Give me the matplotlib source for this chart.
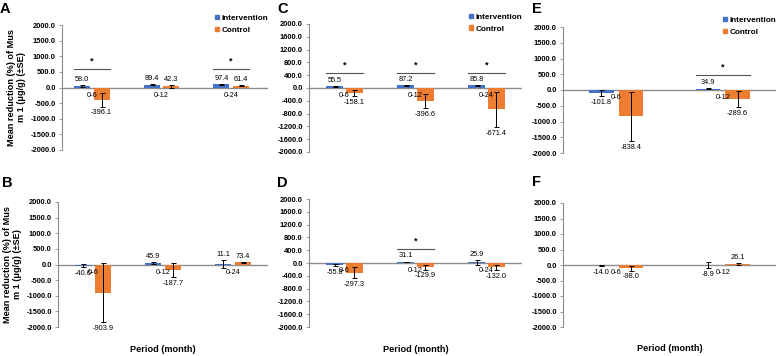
import matplotlib
matplotlib.use('Agg')
import matplotlib.pyplot as plt
from matplotlib.patches import Patch
import numpy as np

plt.rcParams['font.family'] = ['Liberation Sans', 'DejaVu Sans']

# ---- data ----
periods_3 = ['0-6', '0-12', '0-24']
periods_2 = ['0-6', '0-12']

a_interv = [58.0, 89.4, 97.4]
a_interv_se = [35, 20, 12]
a_control = [-396.1, 42.3, 61.4]
a_control_se = [215, 45, 20]
a_sig = [True, False, True]

b_interv = [-40.6, 45.9, 11.1]
b_interv_se = [50, 30, 120]
b_control = [-903.9, -187.7, 73.4]
b_control_se = [940, 220, 15]
b_sig = [False, False, False]

c_interv = [55.5, 87.2, 85.8]
c_interv_se = [20, 15, 15]
c_control = [-158.1, -396.6, -671.4]
c_control_se = [90, 220, 540]
c_sig = [True, True, True]

d_interv = [-55.8, 31.1, 25.9]
d_interv_se = [40, 15, 80]
d_control = [-297.3, -129.9, -132.0]
d_control_se = [170, 78, 80]
d_sig = [False, True, False]

e_interv = [-101.8, 34.9]
e_interv_se = [90, 15]
e_control = [-838.4, -289.6]
e_control_se = [780, 260]
e_sig = [False, True]

f_interv = [-14.0, -8.9]
f_interv_se = [10, 95]
f_control = [-98.0, 26.1]
f_control_se = [80, 30]
f_sig = [False, False]

BLUE = '#4472C4'
ORANGE = '#ED7D31'
GREY = '#8C8C8C'
W, H = 776, 356


def px_axes(fig, left, right, top, bottom):
    return fig.add_axes([left / W, 1 - bottom / H, (right - left) / W, (bottom - top) / H])


def draw_panel(ax, periods, interv, interv_se, control, control_se, sig,
               step, xlim, sig_frac, legend=False, ylabel=False, xlabel=False):
    x = np.arange(len(periods))
    bw = 0.23
    off = 0.14
    ax.bar(x - off, interv, bw, color=BLUE, zorder=2)
    ax.bar(x + off, control, bw, color=ORANGE, zorder=2)
    ax.errorbar(x - off, interv, yerr=interv_se, fmt='none', ecolor='black',
                elinewidth=0.7, capsize=1.8, capthick=0.7, zorder=3)
    ax.errorbar(x + off, control, yerr=control_se, fmt='none', ecolor='black',
                elinewidth=0.7, capsize=1.8, capthick=0.7, zorder=3)
    ax.axhline(0, color=GREY, lw=1.0, zorder=1)

    # value labels
    for xs, vals, ses in ((x - off, interv, interv_se), (x + off, control, control_se)):
        for xi, v, s in zip(xs, vals, ses):
            if v >= 0:
                ax.annotate(f'{v:.1f}', (xi, v + s), xytext=(0, 1.5), textcoords='offset points',
                            ha='center', va='bottom', fontsize=5.3, annotation_clip=False)
            else:
                ax.annotate(f'{v:.1f}', (xi, v - s), xytext=(0, -2), textcoords='offset points',
                            ha='center', va='top', fontsize=5.3, annotation_clip=False)

    # category labels sit on the zero line
    for xi, p in zip(x, periods):
        ax.annotate(p, (xi, 0), xytext=(0, -3), textcoords='offset points',
                    ha='center', va='top', fontsize=5.3)

    for xi, s in zip(x, sig):
        if s:
            ys = 2000 * sig_frac
            ax.plot([xi - off - bw / 2, xi + off + bw / 2], [ys, ys], color='#555555', lw=0.8)
            ax.text(xi, ys + 2000 * 0.05, '*', ha='center', va='bottom', fontsize=6.5,
                    fontweight='bold')

    ax.set_ylim(-2000, 2000)
    ax.set_xlim(*xlim)
    ticks = np.arange(-2000, 2001, step)
    ax.set_yticks(ticks)
    ax.set_yticklabels([f'{t:.1f}' for t in ticks], fontsize=5.4, fontweight='bold')
    ax.set_xticks([])
    for sp in ('top', 'right', 'bottom'):
        ax.spines[sp].set_visible(False)
    ax.spines['left'].set_color(GREY)
    ax.spines['left'].set_linewidth(0.8)
    ax.tick_params(axis='y', length=2.5, width=0.6, color=GREY, pad=2)

    if legend:
        handles = [Patch(color=BLUE, label='Intervention'), Patch(color=ORANGE, label='Control')]
        ax.legend(handles=handles, loc='upper right', bbox_to_anchor=(1.0, 1.08), frameon=False,
                  prop={'size': 5.9, 'weight': 'bold'}, handlelength=0.45, handleheight=0.45,
                  handletextpad=0.3, labelspacing=0.55, borderaxespad=0, borderpad=0)
    if ylabel:
        ax.set_ylabel('Mean reduction (%) of Mus\nm 1 (\u03bcg/g) (\u00b1SE)', fontsize=6.6,
                      fontweight='bold', labelpad=3, linespacing=1.2)
    if xlabel:
        ax.text(0.5, -0.14, 'Period (month)', transform=ax.transAxes, ha='center', va='top',
                fontsize=6.6, fontweight='bold')


fig = plt.figure(figsize=(W / 100, H / 100), dpi=100)

ax_a = px_axes(fig, 62, 268, 25, 150)
ax_b = px_axes(fig, 58, 268, 202, 327)
ax_c = px_axes(fig, 309, 522, 24, 152)
ax_d = px_axes(fig, 309, 522, 199, 327)
ax_e = px_axes(fig, 563, 776, 27, 153)
ax_f = px_axes(fig, 563, 776, 203, 327)

draw_panel(ax_a, periods_3, a_interv, a_interv_se, a_control, a_control_se, a_sig,
           500, (-0.43, 2.53), 0.3, legend=True, ylabel=True)
draw_panel(ax_b, periods_3, b_interv, b_interv_se, b_control, b_control_se, b_sig,
           500, (-0.5, 2.5), 0.3, ylabel=True, xlabel=True)
draw_panel(ax_c, periods_3, c_interv, c_interv_se, c_control, c_control_se, c_sig,
           400, (-0.5, 2.5), 0.235, legend=True)
draw_panel(ax_d, periods_3, d_interv, d_interv_se, d_control, d_control_se, d_sig,
           400, (-0.5, 2.5), 0.225, xlabel=True)
draw_panel(ax_e, periods_2, e_interv, e_interv_se, e_control, e_control_se, e_sig,
           500, (-0.5, 1.5), 0.24, legend=True)
draw_panel(ax_f, periods_2, f_interv, f_interv_se, f_control, f_control_se, f_sig,
           500, (-0.5, 1.5), 0.24, xlabel=True)

# panel letters
for letter, lx, ly in (('A', 0, 2), ('B', 2, 176), ('C', 277, 2),
                       ('D', 277, 176), ('E', 532, 2), ('F', 532, 175)):
    fig.text(lx / W, 1 - ly / H, letter, fontsize=10.5, fontweight='bold', ha='left', va='top')

fig.savefig('out.png', dpi=100)
